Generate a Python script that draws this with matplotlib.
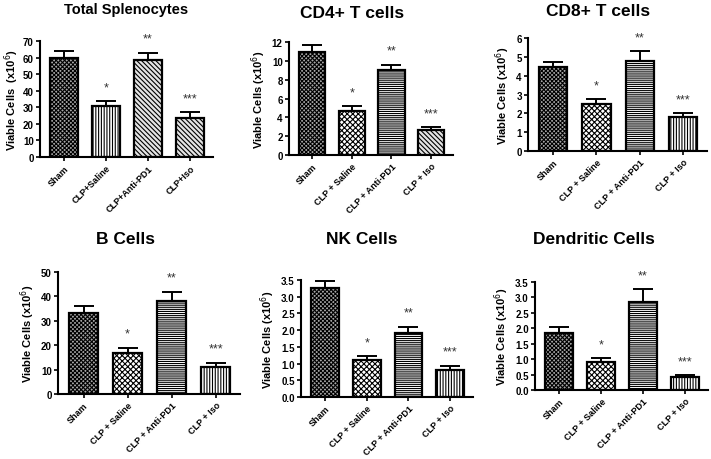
#Recreation of six-panel viable cell bar chart
import numpy as np
import matplotlib
matplotlib.use("Agg")
import matplotlib.pyplot as plt

plt.rcParams['font.family'] = ['Liberation Sans', 'DejaVu Sans']
plt.rcParams['hatch.linewidth'] = 0.8

#Data
titles = ["Total Splenocytes", "CD4+ T cells", "CD8+ T cells",
          "B Cells", "NK Cells", "Dendritic Cells"]
labels_tight = ["Sham", "CLP+Saline", "CLP+Anti-PD1", "CLP+Iso"]
labels_spaced = ["Sham", "CLP + Saline", "CLP + Anti-PD1", "CLP + Iso"]
stars = ["", "*", "**", "***"]

total_mean = [60.0, 30.5, 58.5, 23.5]
total_err = [4.0, 3.0, 4.5, 3.5]
cd4_mean = [10.9, 4.7, 9.0, 2.65]
cd4_err = [0.8, 0.5, 0.6, 0.3]
cd8_mean = [4.45, 2.5, 4.8, 1.8]
cd8_err = [0.3, 0.25, 0.5, 0.2]
b_mean = [33.0, 16.8, 38.0, 11.2]
b_err = [3.0, 1.9, 4.0, 1.6]
nk_mean = [3.25, 1.1, 1.9, 0.82]
nk_err = [0.23, 0.12, 0.2, 0.12]
dc_mean = [1.85, 0.92, 2.85, 0.43]
dc_err = [0.18, 0.11, 0.43, 0.07]

y_max = [70, 12, 6, 50, 3.5, 3.5]
y_step = [10, 2, 1, 10, 0.5, 0.5]

# hatch styles: (facecolor, hatch)
SHAM = ('#a8a8a8', 'xxxxxxxx')
CHECK = ('white', 'xxxxxx')
HLINE = ('white', '--------')
VLINE = ('white', '||||||')
DIAG = ('#e4e4e4', '\\\\\\\\\\\\\\')
styles = [
    [SHAM, VLINE, DIAG, DIAG],
    [SHAM, CHECK, HLINE, DIAG],
    [SHAM, CHECK, HLINE, VLINE],
    [SHAM, CHECK, HLINE, VLINE],
    [SHAM, CHECK, HLINE, VLINE],
    [SHAM, CHECK, HLINE, VLINE],
]

W, H = 711, 460
# axes boxes in pixels: left, top, right, bottom
boxes = [(40, 42, 213, 158), (289, 43, 453, 156), (528, 39, 707, 152),
         (58, 273, 240, 395), (301, 281, 473, 398), (535, 283, 708, 391)]
title_pos = [(126, 10, 10.5), (352, 13, 12.5), (598, 12, 12.5),
             (125, 240, 12.5), (362, 240, 12.5), (594, 240, 12.5)]

means = [total_mean, cd4_mean, cd8_mean, b_mean, nk_mean, dc_mean]
errs = [total_err, cd4_err, cd8_err, b_err, nk_err, dc_err]

fig = plt.figure(figsize=(W / 100, H / 100), dpi=100)

for i in range(6):
    l, t, r, b = boxes[i]
    ax = fig.add_axes([l / W, 1 - b / H, (r - l) / W, (b - t) / H])
    x = np.arange(4)
    for j in range(4):
        fc, hatch = styles[i][j]
        ax.bar(x[j], means[i][j], width=0.66, color=fc, hatch=hatch,
               edgecolor='black', linewidth=1.6, zorder=2)
    ax.errorbar(x, means[i], yerr=[np.zeros(4), errs[i]], fmt='none',
                ecolor='black', elinewidth=1.4, capsize=7, capthick=1.4,
                zorder=1)
    for j in range(4):
        if stars[j]:
            ax.text(x[j], means[i][j] + errs[i][j] + y_max[i] * 0.07,
                    stars[j], ha='center', va='bottom', fontsize=9,
                    color='#333333')
    ax.set_xlim(-0.58, 3.55)
    ax.set_ylim(0, y_max[i])
    ticks = np.arange(0, y_max[i] + y_step[i] / 2, y_step[i])
    ax.set_yticks(ticks)
    if y_step[i] < 1:
        ax.set_yticklabels([f"{v:.1f}" for v in ticks])
    else:
        ax.set_yticklabels([f"{v:g}" for v in ticks])
    ax.set_xticks(x)
    labs = labels_tight if i == 0 else labels_spaced
    ax.set_xticklabels(labs, rotation=45, ha='right', rotation_mode='anchor',
                       fontsize=6.5, fontweight='bold')
    for tl in ax.get_yticklabels():
        tl.set_fontsize(7)
        tl.set_fontweight('bold')
    ax.spines['top'].set_visible(False)
    ax.spines['right'].set_visible(False)
    ax.spines['left'].set_linewidth(1.5)
    ax.spines['bottom'].set_linewidth(1.5)
    ax.tick_params(direction='out', length=3, width=1.2, pad=1.5)
    ylab = "Viable Cells  (x10$^6$)" if i == 0 else "Viable Cells (x10$^6$)"
    ax.set_ylabel(ylab, fontsize=8, fontweight='bold',
                  labelpad=1 if i == 0 else 3)
    tx, ty, fs = title_pos[i]
    fig.text(tx / W, 1 - ty / H, titles[i], ha='center', va='center',
             fontsize=fs, fontweight='bold')

fig.savefig("out.png", dpi=100)
